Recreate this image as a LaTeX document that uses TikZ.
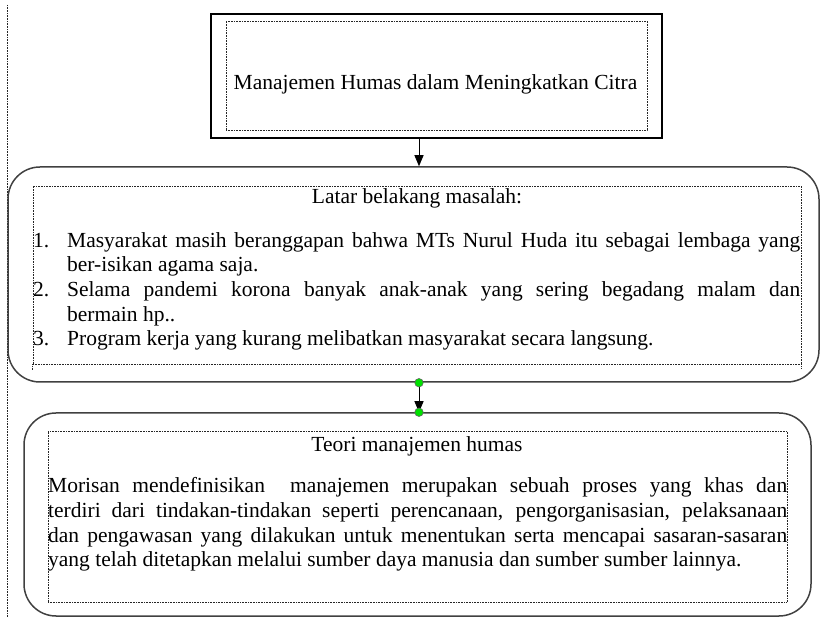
\documentclass[tikz,border=0pt]{standalone}
\usepackage{fontspec}
\setmainfont{Liberation Serif}
\usetikzlibrary{arrows.meta}
\definecolor{dotgreen}{RGB}{0,225,0}
\begin{document}
\begin{tikzpicture}[x=1pt,y=-1pt,
  dotbox/.style={draw=black!85, line width=0.7pt, dash pattern=on 0.7pt off 0.9pt},
  plainbox/.style={draw=black, line width=1.3pt},
  roundbox/.style={draw=black!75, line width=1.5pt, rounded corners=32pt},
  txt/.style={inner sep=0pt, font=\fontsize{21.5}{24.6}\selectfont},
  arr/.style={line width=1pt, -{Triangle[length=11pt,width=9pt]}},
  gdot/.style={circle, fill=dotgreen, draw=black!60, line width=0.6pt, inner sep=0pt, minimum size=8.5pt}]
\useasboundingbox (0,0) rectangle (820,617);

% page margin line
\draw[dotbox] (7,5) -- (7,617);

% top box
\node[plainbox, minimum width=451pt, minimum height=124pt, inner sep=0pt] (title) at (436.5,76) {};
\node[dotbox, minimum width=421pt, minimum height=109pt, inner sep=0pt] (titlein) at (436.5,75.5) {};
\node[txt, anchor=base] (titletxt) at (435.5,89.3) {Manajemen Humas dalam Meningkatkan Citra};

% second box
\node[roundbox, minimum width=811pt, minimum height=215pt, inner sep=0pt] (latar) at (413.5,274.5) {};
\node[dotbox, minimum width=768pt, minimum height=178pt, inner sep=0pt] (latarin) at (417,275) {};
\draw[dotbox] (latarin.south west) -- ++(0,6);
\draw[dotbox] (latarin.south east) -- ++(0,4);
\node[txt, anchor=base] (lhead) at (417,204) {Latar belakang masalah:};
\node[txt, anchor=base west] (l1) at (33,247.3) {\makebox[34pt][l]{1.}\makebox[733pt][s]{Masyarakat masih beranggapan bahwa MTs Nurul Huda itu sebagai lembaga yang}};
\node[txt, anchor=base west] (l2) at (67,271.7) {ber-isikan agama saja.};
\node[txt, anchor=base west] (l3) at (33,296.5) {\makebox[34pt][l]{2.}\makebox[733pt][s]{Selama pandemi korona banyak anak-anak yang sering begadang malam dan}};
\node[txt, anchor=base west] (l4) at (67,321.3) {bermain hp..};
\node[txt, anchor=base west] (l5) at (33,345.7) {\makebox[34pt][l]{3.}Program kerja yang kurang melibatkan masyarakat secara langsung.};

% third box
\node[roundbox, minimum width=787pt, minimum height=203pt, inner sep=0pt] (teori) at (417.5,514.5) {};
\node[dotbox, minimum width=739pt, minimum height=171pt, inner sep=0pt] (teoriin) at (417.5,516.5) {};
\node[txt, anchor=base] (thead) at (417,451.5) {Teori manajemen humas};
\node[txt, anchor=base west] (p1) at (48,492.7) {\makebox[739pt][s]{Morisan mendefinisikan \ manajemen merupakan sebuah proses yang khas dan}};
\node[txt, anchor=base west] (p2) at (48,517.8) {\makebox[739pt][s]{terdiri dari tindakan-tindakan seperti perencanaan, pengorganisasian, pelaksanaan}};
\node[txt, anchor=base west] (p3) at (48,542.5) {\makebox[739pt][s]{dan pengawasan yang dilakukan untuk menentukan serta mencapai sasaran-sasaran}};
\node[txt, anchor=base west] (p4) at (48,567) {yang telah ditetapkan melalui sumber daya manusia dan sumber sumber lainnya.};

% connectors
\coordinate (cx) at (419,0);
\draw[arr] (title.south -| cx) -- (latar.north -| cx);
\draw[arr] (latar.south -| cx) -- (teori.north -| cx);
\node[gdot] (g1) at (latar.south -| cx) {};
\node[gdot] (g2) at (teori.north -| cx) {};
\end{tikzpicture}
\end{document}
